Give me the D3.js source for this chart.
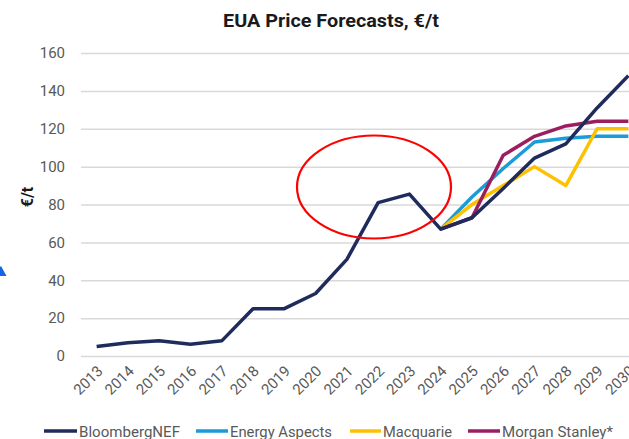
<!DOCTYPE html>
<html>
<head>
<meta charset="utf-8">
<script src="https://cdn.jsdelivr.net/npm/d3@7"></script>
<style>
  html, body { margin: 0; padding: 0; background: #fff; overflow: hidden; }
  svg { display: block; }
</style>
</head>
<body>
<svg id="chart" width="629" height="439"></svg>
<script>
const years = ["2013","2014","2015","2016","2017","2018","2019","2020","2021","2022","2023","2024","2025","2026","2027","2028","2029","2030"];
const yTicks = [0, 20, 40, 60, 80, 100, 120, 140, 160];

const bnef = [5, 7, 8, 6.2, 8, 25, 25, 33, 51, 81, 85.5, 67, 73, 88.5, 104.5, 112, 131, 148];
const energyAspects = [null, null, null, null, null, null, null, null, null, null, null, 67, 84, 99, 113, 115, 116, 116];
const macquarie = [null, null, null, null, null, null, null, null, null, null, null, 67, 80, 90, 100, 90, 120, 120];
const morganStanley = [null, null, null, null, null, null, null, null, null, null, null, 67, 73, 106, 116, 121.5, 124, 124];

const seriesNames = ["BloombergNEF", "Energy Aspects", "Macquarie", "Morgan Stanley*"];
const seriesValues = [bnef, energyAspects, macquarie, morganStanley];
const seriesColors = ["#1e2b5c", "#1b9bd7", "#ffc000", "#9b1f60"];

const FONT = "Roboto, 'Liberation Sans', sans-serif";

const svg = d3.select("#chart");

const x = d3.scaleBand().domain(years).range([81, 644]).padding(0);
const cx = d => x(d) + x.bandwidth() / 2;
const y = d3.scaleLinear().domain([0, 160]).range([356, 53]);

// Title
svg.append("text")
  .attr("x", 331).attr("y", 27)
  .attr("text-anchor", "middle")
  .attr("font-family", FONT)
  .attr("font-weight", "bold")
  .attr("font-size", 18)
  .attr("textLength", 216)
  .attr("lengthAdjust", "spacingAndGlyphs")
  .attr("fill", "#1a1a1a")
  .text("EUA Price Forecasts, €/t");

// Gridlines + y tick labels
const yAxis = d3.axisLeft(y).tickValues(yTicks).tickSize(-(644 - 81)).tickPadding(16);
const gy = svg.append("g").attr("transform", "translate(81,0)").call(yAxis);
gy.select(".domain").remove();
gy.selectAll(".tick line").attr("stroke", "#d9d9d9").attr("stroke-width", 1.5);
gy.selectAll(".tick text")
  .attr("font-family", FONT)
  .attr("font-size", 15)
  .attr("fill", "#595959");

// Y axis title
svg.append("text")
  .attr("transform", "translate(33,197) rotate(-90)")
  .attr("text-anchor", "middle")
  .attr("font-family", FONT)
  .attr("font-weight", "bold")
  .attr("font-size", 16)
  .attr("fill", "#1a1a1a")
  .text("€/t");

// X axis labels
const xAxis = d3.axisBottom(x).tickSize(0).tickPadding(0);
const gx = svg.append("g").attr("transform", "translate(0,356)").call(xAxis);
gx.select(".domain").remove();
gx.selectAll(".tick text")
  .attr("font-family", FONT)
  .attr("font-size", 15)
  .attr("fill", "#595959")
  .attr("text-anchor", "end")
  .attr("dy", null)
  .attr("y", 0)
  .attr("transform", "translate(7,16) rotate(-45)");

// Lines
const line = d3.line()
  .defined(d => d.v !== null)
  .x(d => cx(d.year))
  .y(d => y(d.v));

const order = [1, 2, 3, 0];
order.forEach(i => {
  const data = years.map((yr, j) => ({ year: yr, v: seriesValues[i][j] }));
  svg.append("path")
    .datum(data)
    .attr("fill", "none")
    .attr("stroke", seriesColors[i])
    .attr("stroke-width", 3.5)
    .attr("stroke-linejoin", "round")
    .attr("d", line);
});

// Red ellipse annotation
svg.append("ellipse")
  .attr("cx", 374).attr("cy", 187)
  .attr("rx", 77).attr("ry", 51.5)
  .attr("fill", "none")
  .attr("stroke", "#ff0000")
  .attr("stroke-width", 2.2);

// Blue triangle fragment at left edge
svg.append("polygon")
  .attr("points", "0,276 6.5,276 1,266 0,267")
  .attr("fill", "#1565e6");

// Legend
const legendItems = [
  { name: seriesNames[0], color: seriesColors[0], x0: 44, x1: 77, tx: 79, w: 101 },
  { name: seriesNames[1], color: seriesColors[1], x0: 196, x1: 228, tx: 230, w: 102 },
  { name: seriesNames[2], color: seriesColors[2], x0: 350, x1: 381, tx: 383, w: 69 },
  { name: seriesNames[3], color: seriesColors[3], x0: 468, x1: 500, tx: 502, w: 111 }
];
const lg = svg.append("g");
legendItems.forEach(it => {
  lg.append("line")
    .attr("x1", it.x0).attr("x2", it.x1)
    .attr("y1", 431).attr("y2", 431)
    .attr("stroke", it.color)
    .attr("stroke-width", 3.5);
  lg.append("text")
    .attr("x", it.tx).attr("y", 436.5)
    .attr("font-family", FONT)
    .attr("font-size", 15)
    .attr("textLength", it.w)
    .attr("lengthAdjust", "spacingAndGlyphs")
    .attr("fill", "#595959")
    .text(it.name);
});
</script>
</body>
</html>
